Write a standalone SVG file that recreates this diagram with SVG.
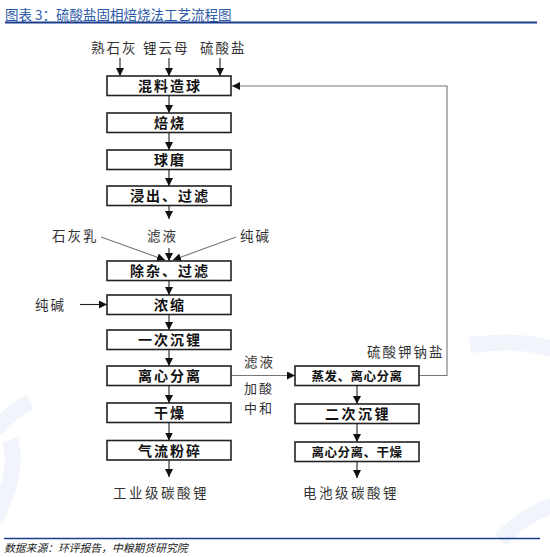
<svg xmlns="http://www.w3.org/2000/svg" width="550" height="557" viewBox="0 0 550 557">
<defs>
<marker id="ah" markerUnits="userSpaceOnUse" markerWidth="8" markerHeight="8" refX="8" refY="4" orient="auto">
<path d="M0,0 L8,4 L0,8 z" fill="#111"/>
</marker>
<style>
.box{fill:#fff;stroke:#222;stroke-width:1.6}
.bt{font-family:"Noto Sans CJK SC","Liberation Serif",serif;font-size:14px;font-weight:bold;fill:#111;text-anchor:middle;letter-spacing:2px}
.bs{font-family:"Noto Sans CJK SC","Liberation Serif",serif;font-size:12.5px;font-weight:bold;fill:#111;text-anchor:middle;letter-spacing:0.5px}
.lb{font-family:"Noto Sans CJK SC","Liberation Serif",serif;font-size:13.5px;fill:#333;letter-spacing:2px}
.ln{fill:none;stroke:#222;stroke-width:1.1}
.lg{fill:none;stroke:#777;stroke-width:1.1}
.wm{fill:none;stroke:#f1f5fb;stroke-width:16}
</style>
</defs>
<rect width="550" height="557" fill="#fff"/>
<g id="watermark">
<path class="wm" d="M470,345 Q520,338 556,350"/>
<path class="wm" d="M-5,430 Q10,412 30,402"/>
<path class="wm" d="M-5,520 Q20,470 10,440"/>
<path class="wm" d="M500,540 Q530,510 556,505"/>
</g>
<g id="header">
<text x="5" y="20" font-family="'Noto Sans CJK SC','Liberation Sans',sans-serif" font-size="13.5" fill="#2b5aa6">图表 3：硫酸盐固相焙烧法工艺流程图</text>
<line x1="5" y1="22.5" x2="537" y2="22.5" stroke="#1c3c8c" stroke-width="2"/>
</g>
<g id="connectors">
<line class="ln" x1="120" y1="58" x2="120" y2="76" marker-end="url(#ah)"/>
<line class="ln" x1="169" y1="58" x2="169" y2="76" marker-end="url(#ah)"/>
<line class="ln" x1="220" y1="58" x2="220" y2="76" marker-end="url(#ah)"/>
<line class="ln" x1="169" y1="95.5" x2="169" y2="113" marker-end="url(#ah)"/>
<line class="ln" x1="169" y1="132.5" x2="169" y2="150" marker-end="url(#ah)"/>
<line class="ln" x1="169" y1="169.5" x2="169" y2="186" marker-end="url(#ah)"/>
<line class="ln" x1="169" y1="205.5" x2="169" y2="219" marker-end="url(#ah)"/>
<line class="lg" x1="101" y1="237" x2="165" y2="260" marker-end="url(#ah)"/>
<line class="lg" x1="236" y1="237" x2="173" y2="260" marker-end="url(#ah)"/>
<line class="ln" x1="169" y1="248" x2="169" y2="261" marker-end="url(#ah)"/>
<line class="ln" x1="169" y1="280.5" x2="169" y2="295" marker-end="url(#ah)"/>
<line class="ln" x1="80" y1="304.5" x2="107" y2="304.5" marker-end="url(#ah)"/>
<line class="ln" x1="169" y1="314.5" x2="169" y2="330" marker-end="url(#ah)"/>
<line class="ln" x1="169" y1="349.5" x2="169" y2="366" marker-end="url(#ah)"/>
<line class="ln" x1="169" y1="385.5" x2="169" y2="403" marker-end="url(#ah)"/>
<line class="ln" x1="169" y1="422.5" x2="169" y2="440.5" marker-end="url(#ah)"/>
<line class="ln" x1="169" y1="460" x2="169" y2="477" marker-end="url(#ah)"/>
<line class="lg" x1="231" y1="375.5" x2="295" y2="375.5" marker-end="url(#ah)"/>
<polyline class="lg" points="419,375.5 447,375.5 447,86 232,86" marker-end="url(#ah)"/>
<line class="ln" x1="357" y1="385.5" x2="357" y2="404" marker-end="url(#ah)"/>
<line class="ln" x1="357" y1="423.5" x2="357" y2="442" marker-end="url(#ah)"/>
<line class="ln" x1="357" y1="461.5" x2="357" y2="478" marker-end="url(#ah)"/>
</g>
<g id="n1"><rect class="box" x="107" y="76" width="124" height="19.5"/><text class="bt" x="170" y="91">混料造球</text></g>
<g id="n2"><rect class="box" x="107" y="113" width="124" height="19.5"/><text class="bt" x="170" y="128">焙烧</text></g>
<g id="n3"><rect class="box" x="107" y="150" width="124" height="19.5"/><text class="bt" x="170" y="165">球磨</text></g>
<g id="n4"><rect class="box" x="107" y="186" width="124" height="19.5"/><text class="bt" x="170" y="201">浸出、过滤</text></g>
<g id="n5"><rect class="box" x="107" y="261" width="124" height="19.5"/><text class="bt" x="170" y="276">除杂、过滤</text></g>
<g id="n6"><rect class="box" x="107" y="295" width="124" height="19.5"/><text class="bt" x="170" y="310">浓缩</text></g>
<g id="n7"><rect class="box" x="107" y="330" width="124" height="19.5"/><text class="bt" x="170" y="345">一次沉锂</text></g>
<g id="n8"><rect class="box" x="107" y="366" width="124" height="19.5"/><text class="bt" x="170" y="381">离心分离</text></g>
<g id="n9"><rect class="box" x="107" y="403" width="124" height="19.5"/><text class="bt" x="170" y="418">干燥</text></g>
<g id="n10"><rect class="box" x="107" y="440.5" width="124" height="19.5"/><text class="bt" x="170" y="455.5">气流粉碎</text></g>
<g id="n11"><rect class="box" x="295" y="366" width="124" height="19.5"/><text class="bs" x="357" y="380.5">蒸发、离心分离</text></g>
<g id="n12"><rect class="box" x="295" y="404" width="124" height="19.5"/><text class="bt" x="358" y="419" style="letter-spacing:2.5px">二次沉锂</text></g>
<g id="n13"><rect class="box" x="295" y="442" width="124" height="19.5"/><text class="bs" x="357" y="456.5">离心分离、干燥</text></g>
<g id="labels">
<text class="lb" x="91" y="53">熟石灰</text>
<text class="lb" x="143" y="53">锂云母</text>
<text class="lb" x="200" y="53">硫酸盐</text>
<text class="lb" x="52" y="241">石灰乳</text>
<text class="lb" x="147" y="241">滤液</text>
<text class="lb" x="240" y="241">纯碱</text>
<text class="lb" x="35" y="310">纯碱</text>
<text class="lb" x="244" y="367">滤液</text>
<text class="lb" x="244" y="393" style="font-size:13px">加酸</text>
<text class="lb" x="244" y="413" style="font-size:13px">中和</text>
<text class="lb" x="367" y="357">硫酸钾钠盐</text>
<text class="lb" x="113" y="498" style="letter-spacing:2.5px">工业级碳酸锂</text>
<text class="lb" x="303" y="498" style="letter-spacing:2.5px">电池级碳酸锂</text>
</g>
<g id="footer">
<line x1="4" y1="538.5" x2="540" y2="538.5" stroke="#1c3c8c" stroke-width="1.6"/>
<text x="4" y="552" font-family="'Noto Sans CJK SC','Liberation Serif',serif" font-size="10.8" font-style="italic" fill="#222">数据来源：环评报告，中粮期货研究院</text>
</g>
</svg>
